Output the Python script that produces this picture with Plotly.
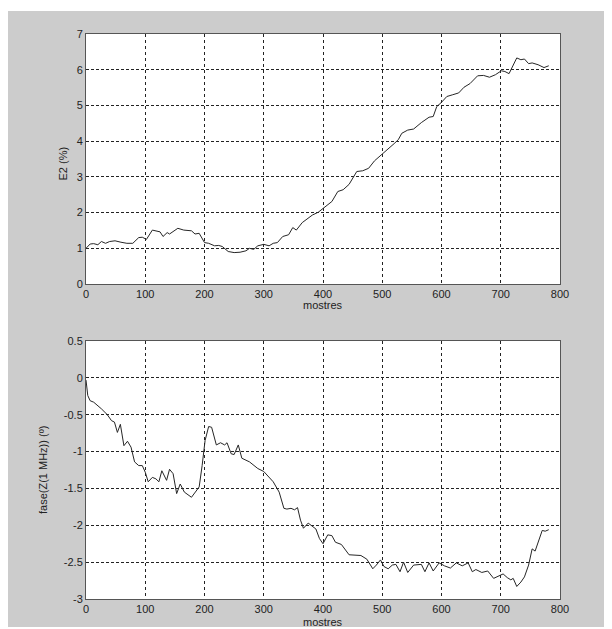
import plotly.graph_objects as go

# ---- data ----
e2_x = [0, 7, 13, 20, 26, 33, 40, 49, 59, 69, 79, 89, 95, 102, 112, 118, 125, 130, 137, 141,
        155, 165, 178, 184, 191, 200, 207, 217, 224, 230, 240, 250, 260, 270, 276, 283, 290,
        300, 309, 316, 323, 332, 342, 349, 355, 365, 382, 392, 398, 408, 415, 425, 434, 444,
        457, 467, 477, 487, 500, 510, 520, 527, 533, 543, 553, 566, 579, 586, 592, 599, 609,
        619, 629, 638, 648, 661, 671, 681, 691, 701, 707, 714, 727, 734, 740, 747, 753, 763,
        773, 781]
e2_y = [1.00, 1.12, 1.13, 1.10, 1.19, 1.14, 1.19, 1.21, 1.17, 1.14, 1.14, 1.30, 1.31, 1.25,
        1.51, 1.48, 1.46, 1.33, 1.44, 1.40, 1.56, 1.51, 1.49, 1.40, 1.42, 1.16, 1.14, 1.07,
        1.08, 1.05, 0.91, 0.88, 0.89, 0.93, 1.00, 0.97, 1.07, 1.11, 1.07, 1.14, 1.16, 1.33,
        1.38, 1.58, 1.51, 1.72, 1.93, 2.01, 2.09, 2.21, 2.31, 2.59, 2.64, 2.79, 3.15, 3.17,
        3.24, 3.45, 3.64, 3.76, 3.93, 4.04, 4.22, 4.31, 4.34, 4.52, 4.67, 4.69, 4.97, 5.07,
        5.25, 5.30, 5.35, 5.51, 5.61, 5.83, 5.84, 5.79, 5.86, 5.97, 5.95, 5.89, 6.33, 6.28,
        6.30, 6.17, 6.19, 6.14, 6.06, 6.11]

fase_x = [0, 3, 7, 13, 26, 36, 43, 48, 53, 58, 64, 70, 76, 82, 89, 95, 100, 105, 112, 118,
          123, 128, 136, 141, 147, 153, 159, 166, 178, 184, 191, 196, 201, 207, 212, 220, 227,
          234, 238, 245, 250, 257, 263, 276, 290, 300, 309, 316, 326, 334, 339, 346, 352, 357,
          362, 367, 375, 382, 388, 394, 400, 408, 415, 421, 431, 444, 454, 464, 474, 484, 490,
          497, 503, 510, 517, 523, 530, 536, 543, 553, 566, 572, 579, 586, 596, 605, 615, 625,
          635, 645, 652, 658, 668, 678, 688, 698, 704, 711, 717, 721, 727, 734, 740, 747, 753,
          758, 763, 770, 775, 781]
fase_y = [-0.03, -0.24, -0.31, -0.33, -0.42, -0.50, -0.58, -0.60, -0.74, -0.63, -0.92, -0.86,
          -0.94, -1.14, -1.19, -1.19, -1.28, -1.41, -1.35, -1.37, -1.41, -1.26, -1.39, -1.24,
          -1.30, -1.57, -1.44, -1.55, -1.62, -1.56, -1.48, -1.19, -0.85, -0.66, -0.67, -0.91,
          -0.88, -0.91, -0.88, -1.03, -1.04, -0.91, -1.09, -1.14, -1.23, -1.27, -1.35, -1.41,
          -1.55, -1.77, -1.78, -1.77, -1.79, -1.76, -1.93, -2.04, -1.97, -2.02, -2.05, -2.18,
          -2.25, -2.13, -2.14, -2.23, -2.26, -2.40, -2.40, -2.41, -2.46, -2.59, -2.54, -2.47,
          -2.56, -2.59, -2.54, -2.53, -2.63, -2.50, -2.64, -2.54, -2.53, -2.63, -2.51, -2.62,
          -2.51, -2.55, -2.58, -2.51, -2.55, -2.51, -2.63, -2.60, -2.64, -2.62, -2.72, -2.68,
          -2.66, -2.71, -2.74, -2.72, -2.83, -2.77, -2.70, -2.54, -2.32, -2.35, -2.23, -2.07,
          -2.08, -2.06]

x_ticks = [0, 100, 200, 300, 400, 500, 600, 700, 800]
e2_ticks = [0, 1, 2, 3, 4, 5, 6, 7]
fase_ticks = [0.5, 0, -0.5, -1, -1.5, -2, -2.5, -3]
fase_tick_text = ["0.5", "0", "-0.5", "-1", "-1.5", "-2", "-2.5", "-3"]

FONT = "Liberation Sans, Arial, sans-serif"
LINE = "#262626"
TXT = "#222222"

fig = go.Figure()
fig.add_trace(go.Scatter(x=e2_x, y=e2_y, mode="lines", line=dict(color=LINE, width=1),
                         xaxis="x", yaxis="y", showlegend=False))
fig.add_trace(go.Scatter(x=fase_x, y=fase_y, mode="lines", line=dict(color=LINE, width=1),
                         xaxis="x2", yaxis="y2", showlegend=False))

axis_common = dict(showline=True, mirror=True, linecolor="#555555", linewidth=1,
                   showgrid=True, gridcolor="#222222", gridwidth=1, zeroline=False,
                   ticks="", tickfont=dict(family=FONT, size=11, color=TXT))

# the page body keeps its default 8px margin, so the figure is 8px smaller than the window
fig.update_layout(
    width=604, height=621,
    margin=dict(l=78, r=52, t=26, b=30),
    paper_bgcolor="#cccccc", plot_bgcolor="white",
    xaxis=dict(domain=[0, 1], anchor="y", range=[0, 800], tickvals=x_ticks,
               griddash="dot", **axis_common),
    yaxis=dict(domain=[0.5575, 1], anchor="x", range=[0, 7], tickvals=e2_ticks,
               griddash="3px,2px", **axis_common),
    xaxis2=dict(domain=[0, 1], anchor="y2", range=[0, 800], tickvals=x_ticks,
                griddash="dot", **axis_common),
    yaxis2=dict(domain=[0, 0.4566], anchor="x2", range=[-3, 0.5], tickvals=fase_ticks,
                ticktext=fase_tick_text, griddash="3px,2px", **axis_common),
    shapes=[
        dict(type="rect", xref="paper", yref="paper", x0=-0.3, x1=1.3,
             y0=1.0407, y1=1.1, fillcolor="white", line=dict(width=0)),
        dict(type="rect", xref="paper", yref="paper", x0=-0.3, x1=1.3,
             y0=-0.1, y1=-0.0496, fillcolor="white", line=dict(width=0)),
    ],
    annotations=[
        dict(text="mostres", xref="paper", yref="paper", x=0.5, y=0.5204, showarrow=False,
             xanchor="center", yanchor="middle", font=dict(family=FONT, size=11, color=TXT)),
        dict(text="mostres", xref="paper", yref="paper", x=0.5, y=-0.0407, showarrow=False,
             xanchor="center", yanchor="middle", font=dict(family=FONT, size=11, color=TXT)),
        dict(text="E2 (%)", xref="paper", yref="paper", x=-0.0496, y=0.7717, showarrow=False,
             textangle=-90, xanchor="center", yanchor="middle",
             font=dict(family=FONT, size=11, color=TXT)),
        dict(text="fase(Z(1 MHz)) (º)", xref="paper", yref="paper", x=-0.0907, y=0.2283,
             showarrow=False, textangle=-90, xanchor="center", yanchor="middle",
             font=dict(family=FONT, size=11, color=TXT)),
    ],
)

fig.write_html("out.html")
